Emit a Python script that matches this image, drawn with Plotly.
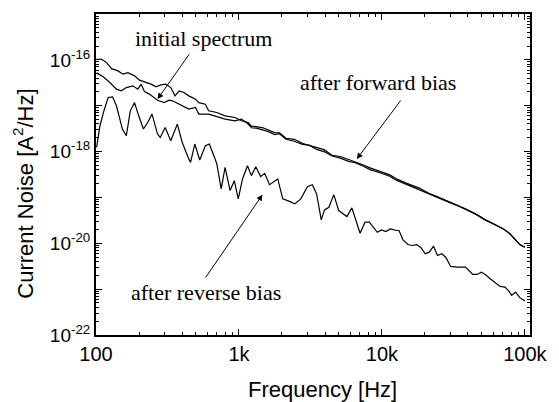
import plotly.graph_objects as go

# Reverse-bias spectrum
freq_rev = [101, 106.6, 113.6, 121.6, 130.5, 139, 152.9, 163, 173.7, 186,
            199, 214.7, 229.8, 246.5, 269.5, 281.4, 304.6, 333.6, 370.6, 401.2,
            441.4, 458.5, 491.1, 531.7, 582.1, 620.4, 675, 700, 751, 800,
            866.8, 928, 989, 1059, 1147, 1222, 1311, 1419, 1512, 1638,
            1869, 2024, 2191, 2461, 2708, 3012, 3263, 3494, 3765, 3967,
            4256, 4609, 4989, 5693, 6165, 7035, 7619, 8171, 9279, 9936,
            10640, 11470, 12620, 13170, 14040, 15200, 16280, 17540, 18780, 20120,
            21430, 22980, 24490, 26230, 27960, 30270, 33680, 38430, 43170, 46300,
            49570, 52840, 57220, 61940, 67080, 72620, 77400, 80800, 86100, 92200,
            100000]
noise_rev = [1.23e-18, 3.66e-18, 7.74e-18, 1.51e-17, 1.56e-17, 9.95e-18, 3.10e-18, 2.21e-18, 7.74e-18, 1.17e-17,
             6.02e-18, 3.10e-18, 4.31e-18, 6.56e-18, 2.41e-18, 2.03e-18, 3.36e-18, 1.72e-18, 3.98e-18, 1.58e-18,
             7.46e-19, 5.81e-19, 1.46e-18, 6.55e-19, 1.34e-18, 1.46e-18, 7.46e-19, 5.36e-19, 1.53e-19, 4.52e-19,
             1.41e-19, 2.32e-19, 9.29e-20, 2.53e-19, 4.92e-19, 2.99e-19, 4.69e-19, 2.84e-19, 3.35e-19, 1.90e-19,
             2.53e-19, 9.29e-20, 8.53e-20, 7.23e-20, 9.29e-20, 1.72e-19, 1.90e-19, 1.19e-19, 3.24e-20, 5.35e-20,
             6.09e-20, 1.15e-19, 5.16e-20, 3.83e-20, 5.91e-20, 1.66e-20, 2.88e-20, 2.88e-20, 1.74e-20, 1.96e-20,
             1.80e-20, 2.06e-20, 1.90e-20, 1.90e-20, 1.19e-20, 9.39e-21, 8.95e-21, 9.39e-21, 7.98e-21, 5.90e-21,
             6.40e-21, 8.63e-21, 5.42e-21, 5.90e-21, 4.98e-21, 3.13e-21, 3.02e-21, 3.02e-21, 2.09e-21, 2.09e-21,
             2.35e-21, 2.09e-21, 1.69e-21, 1.42e-21, 1.15e-21, 1.11e-21, 9.06e-22, 7.31e-22, 8.63e-22, 6.52e-22,
             5.50e-22]

# Shared high-frequency grid of the two upper spectra
freq_tail = [1222, 1323, 1472, 1594, 1774, 1920, 2133, 2438, 2783, 3095,
             3532, 3930, 4485, 5117, 5849, 6498, 7427, 8250, 9672, 11340,
             12620, 14790, 18280, 21430, 23850, 27960, 32780, 38430, 45070, 52840,
             61940, 70700, 78630, 85140, 92200, 100000]

# After forward bias (starts higher)
freq_fwd = [101, 109.5, 118.6, 128.4, 142.6, 154.4, 167.2, 186, 201.4, 224,
            242.7, 262.8, 284.5, 308, 333.6, 357.3, 380.7, 412.2, 446.3, 496.6,
            523.4, 582.1, 613.6, 700, 800, 938, 1042, 1160] + freq_tail
noise_fwd = [1.03e-16, 1.03e-16, 8.71e-17, 6.44e-17, 5.74e-17, 4.87e-17, 5.27e-17, 4.48e-17, 3.61e-17, 3.20e-17,
             2.95e-17, 2.58e-17, 2.85e-17, 2.95e-17, 2.49e-17, 1.64e-17, 2.11e-17, 1.94e-17, 1.64e-17, 1.39e-17,
             1.17e-17, 1.08e-17, 7.74e-18, 7.11e-18, 6.02e-18, 5.53e-18, 4.69e-18, 4.31e-18,
             3.6e-18, 3.5e-18, 3.3e-18, 3.0e-18, 2.6e-18, 2.55e-18, 1.95e-18, 1.85e-18, 1.52e-18, 1.36e-18,
             1.20e-18, 1.10e-18, 8.3e-19, 7.8e-19, 6.7e-19, 6.0e-19, 5.1e-19, 4.4e-19, 3.65e-19, 3.1e-19,
             2.55e-19, 2.05e-19, 1.6e-19, 1.22e-19, 1.07e-19, 8.7e-20, 7.0e-20, 5.62e-20, 4.38e-20, 3.24e-20,
             2.56e-20, 2.06e-20, 1.61e-20, 1.25e-20, 9.39e-21, 8.22e-21]

# Initial spectrum
freq_init = [101, 112.3, 125, 139, 150.5, 163, 181.1, 196, 207, 218.2,
             236.1, 255.7, 269.5, 299.9, 324.7, 342.1, 401.2, 446.3, 496.6, 523.4,
             613.6, 719.4, 800, 938, 1042, 1160] + freq_tail
noise_init = [5.20e-17, 4.26e-17, 3.20e-17, 2.30e-17, 2.11e-17, 2.49e-17, 2.71e-17, 2.30e-17, 2.95e-17, 2.04e-17,
              1.79e-17, 1.51e-17, 1.32e-17, 1.17e-17, 1.32e-17, 1.28e-17, 9.95e-18, 8.43e-18, 9.14e-18, 6.56e-18,
              6.56e-18, 5.53e-18, 5.10e-18, 4.69e-18, 5.10e-18, 3.98e-18,
              3.3e-18, 3.25e-18, 3.0e-18, 2.75e-18, 2.35e-18, 2.45e-18, 1.85e-18, 1.68e-18, 1.44e-18, 1.38e-18,
              1.10e-18, 1.00e-18, 8.0e-19, 7.2e-19, 6.1e-19, 5.7e-19, 4.8e-19, 4.05e-19, 3.45e-19, 2.9e-19,
              2.38e-19, 1.92e-19, 1.5e-19, 1.17e-19, 1.03e-19, 8.4e-20, 6.9e-20, 5.6e-20, 4.38e-20, 3.24e-20,
              2.56e-20, 2.06e-20, 1.61e-20, 1.25e-20, 9.39e-21, 8.22e-21]

x_tickvals = [100, 1000, 10000, 100000]
x_ticktext = ["100", "1k", "10k", "100k"]
y_tickvals = [1e-22, 1e-21, 1e-20, 1e-19, 1e-18, 1e-17, 1e-16, 1e-15]
y_ticktext = ["10<sup>-22</sup>", "", "10<sup>-20</sup>", "", "10<sup>-18</sup>", "", "10<sup>-16</sup>", ""]

x_minor = [m * d for d in (100, 1000, 10000) for m in range(2, 10)]
y_minor = [m * 10.0 ** e for e in range(-22, -15) for m in range(2, 10)]

line_style = dict(color="black", width=1.2)
fig = go.Figure()
fig.add_trace(go.Scatter(x=freq_rev, y=noise_rev, mode="lines", line=line_style, name="after reverse bias"))
fig.add_trace(go.Scatter(x=freq_fwd, y=noise_fwd, mode="lines", line=line_style, name="after forward bias"))
fig.add_trace(go.Scatter(x=freq_init, y=noise_init, mode="lines", line=line_style, name="initial spectrum"))

serif = "Liberation Serif, Times New Roman, serif"
sans = "Liberation Sans, Arial, sans-serif"

axis_common = dict(
    type="log", showgrid=False, zeroline=False, showline=True, linecolor="black", linewidth=2,
    mirror="ticks", ticks="inside", ticklen=6, tickwidth=1, tickcolor="black",
    tickmode="array",
)

fig.update_layout(
    width=559, height=402,
    margin=dict(l=96, r=24, t=13, b=67),
    paper_bgcolor="white", plot_bgcolor="white",
    showlegend=False,
    xaxis=dict(**axis_common, range=[2, 5.036], tickvals=x_tickvals, ticktext=x_ticktext,
               tickfont=dict(family=sans, size=20, color="black"),
               minor=dict(tickmode="array", tickvals=x_minor, ticks="inside", ticklen=3,
                          tickwidth=1, tickcolor="black")),
    yaxis=dict(**axis_common, range=[-22, -15], tickvals=y_tickvals, ticktext=y_ticktext,
               tickfont=dict(family=sans, size=19, color="black"),
               minor=dict(tickmode="array", tickvals=y_minor, ticks="inside", ticklen=3,
                          tickwidth=1, tickcolor="black")),
    annotations=[
        dict(text="initial spectrum", x=2.7533, y=-15.544, xref="x", yref="y", showarrow=False,
             xanchor="center", yanchor="middle", font=dict(family=serif, size=22, color="black")),
        dict(text="after forward bias", x=3.973, y=-16.502, xref="x", yref="y", showarrow=False,
             xanchor="center", yanchor="middle", font=dict(family=serif, size=22, color="black")),
        dict(text="after reverse bias", x=2.7706, y=-21.071, xref="x", yref="y", showarrow=False,
             xanchor="center", yanchor="middle", font=dict(family=serif, size=22, color="black")),
        dict(text="", x=2.4305, y=-16.856, xref="x", yref="y", ax=32.7, ay=-46.3,
             showarrow=True, arrowhead=2, arrowsize=1.2, arrowwidth=1, arrowcolor="black"),
        dict(text="", x=3.8245, y=-18.162, xref="x", yref="y", ax=45, ay=-60,
             showarrow=True, arrowhead=2, arrowsize=1.2, arrowwidth=1, arrowcolor="black"),
        dict(text="", x=3.1645, y=-18.939, xref="x", yref="y", ax=-57.8, ay=84.3,
             showarrow=True, arrowhead=2, arrowsize=1.2, arrowwidth=1, arrowcolor="black"),
        dict(text="Current Noise [A<sup>2</sup>/Hz]", x=-0.168, y=0.4405, xref="paper", yref="paper",
             xanchor="center", yanchor="middle",
             textangle=-90, showarrow=False, font=dict(family=sans, size=22, color="black")),
        dict(text="Frequency [Hz]", x=0.5224, y=-0.1688, xref="paper", yref="paper",
             xanchor="center", yanchor="middle",
             showarrow=False, font=dict(family=sans, size=22, color="black")),
    ],
)

fig.write_html("out.html")
